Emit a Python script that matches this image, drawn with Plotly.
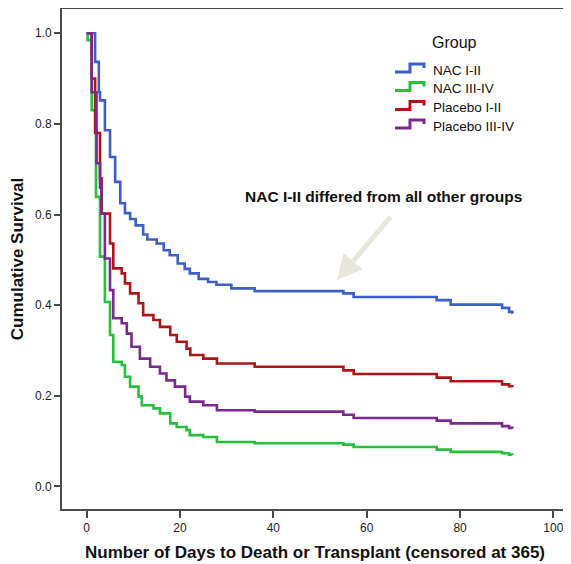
import plotly.graph_objects as go

# ---------------- data ----------------
groups = ["NAC I-II", "NAC III-IV", "Placebo I-II", "Placebo III-IV"]
colors = ["#3d5fc6", "#27c03c", "#b01418", "#7a2a8e"]

days_nac_12 = [0, 1.8, 2.6, 2.85, 3.9, 5.0, 6.1, 7.2, 8.2, 9.3, 10.5, 12.1, 13.0,
               15.0, 16.5, 17.8, 19.5, 21.0, 22.1, 24.0, 26.0, 27.8, 31.0, 36.0,
               55.0, 57.2, 75.0, 78.0, 89.0, 90.5, 91.2]
surv_nac_12 = [1.0, 0.937, 0.87, 0.852, 0.786, 0.727, 0.672, 0.625, 0.603, 0.59,
               0.576, 0.556, 0.545, 0.536, 0.521, 0.51, 0.492, 0.48, 0.47, 0.458,
               0.451, 0.445, 0.437, 0.431, 0.426, 0.418, 0.411, 0.401, 0.394,
               0.385, 0.381]

days_nac_34 = [0, 0.2, 1.07, 2.0, 2.85, 3.9, 5.0, 5.7, 7.5, 8.2, 9.3, 11.1, 11.8,
               14.3, 15.7, 17.9, 19.3, 21.4, 22.1, 25.0, 27.9, 36.0, 55.0, 57.2,
               75.0, 78.0, 89.0, 90.5, 91.2]
surv_nac_34 = [1.0, 0.985, 0.83, 0.639, 0.507, 0.407, 0.334, 0.275, 0.268, 0.242,
               0.22, 0.198, 0.179, 0.172, 0.161, 0.139, 0.131, 0.124, 0.113, 0.109,
               0.098, 0.095, 0.092, 0.087, 0.081, 0.076, 0.073, 0.070, 0.069]

days_pla_12 = [0, 1.07, 1.8, 2.85, 3.2, 5.0, 5.7, 7.5, 8.2, 9.3, 11.1, 12.1, 14.3,
               15.7, 17.9, 19.3, 21.4, 22.2, 25.0, 27.9, 36.0, 55.0, 57.2, 75.0,
               78.0, 89.0, 90.5, 91.2]
surv_pla_12 = [1.0, 0.90, 0.78, 0.68, 0.602, 0.536, 0.481, 0.47, 0.448, 0.426,
               0.404, 0.378, 0.367, 0.352, 0.334, 0.319, 0.304, 0.29, 0.282, 0.271,
               0.264, 0.256, 0.248, 0.24, 0.232, 0.225, 0.221, 0.219]

days_pla_34 = [0, 1.07, 2.1, 2.85, 3.2, 3.9, 5.0, 5.7, 7.5, 8.6, 9.6, 11.4, 13.6,
               15.7, 17.1, 18.9, 21.1, 22.1, 25.0, 27.9, 36.0, 55.0, 57.2, 75.0,
               78.0, 89.0, 90.5, 91.2]
surv_pla_34 = [1.0, 0.87, 0.713, 0.66, 0.602, 0.503, 0.433, 0.371, 0.36, 0.337,
               0.308, 0.282, 0.264, 0.249, 0.234, 0.22, 0.198, 0.187, 0.179, 0.168,
               0.165, 0.158, 0.151, 0.145, 0.139, 0.133, 0.129, 0.127]

x_ticks = [0, 20, 40, 60, 80, 100]
y_ticks = [0.0, 0.2, 0.4, 0.6, 0.8, 1.0]
y_tick_labels = ["0.0", "0.2", "0.4", "0.6", "0.8", "1.0"]

x_title = "Number of Days to Death or Transplant (censored at 365)"
y_title = "Cumulative Survival"
note_text = "NAC I-II differed from all other groups"
legend_title = "Group"

series = [(days_nac_12, surv_nac_12), (days_nac_34, surv_nac_34),
          (days_pla_12, surv_pla_12), (days_pla_34, surv_pla_34)]

# ---------------- figure ----------------
# the page body has an 8px margin, so the figure is sized to fit the window
OFF = 8
W, H = 571 - OFF, 564 - OFF
ML, MR, MT, MB = 62 - OFF, 3, 1, 55
FONT = "Arial, Liberation Sans, sans-serif"

fig = go.Figure()
for name, color, (t, s) in zip(groups, colors, series):
    fig.add_trace(go.Scatter(x=t, y=s, mode="lines", name=name,
                             line=dict(color=color, width=2.6, shape="hv"),
                             showlegend=False))

axis_common = dict(showline=True, linecolor="#4a4a4a", linewidth=2, mirror=True,
                   ticks="outside", tickcolor="#4a4a4a", tickwidth=2,
                   showgrid=False, zeroline=False,
                   tickfont=dict(family=FONT, size=12, color="#222"))

fig.update_xaxes(range=[-5.29, 103.13], tickvals=x_ticks, ticklen=7,
                 title=dict(text=x_title, standoff=12,
                            font=dict(family=FONT, size=17, color="#111", weight="bold")),
                 **axis_common)
fig.update_yaxes(range=[-0.050, 1.0536], tickvals=y_ticks, ticktext=y_tick_labels, ticklen=6,
                 title=dict(text=y_title, standoff=10,
                            font=dict(family=FONT, size=17, color="#111", weight="bold")),
                 **axis_common)

# reference-pixel -> paper helpers for decorations
PL, PR, PT, PB = 62, 568, 9, 509

def px(xp):
    return (xp - PL) / (PR - PL)

def py(yp):
    return (PB - yp) / (PB - PT)

annotations = []
shapes = []

# legend (custom, with step-shaped icons)
annotations.append(dict(text=legend_title, xref="paper", yref="paper",
                        x=px(454), y=py(43), showarrow=False,
                        xanchor="center", yanchor="middle",
                        font=dict(family=FONT, size=16, color="#111")))
row_y = [70, 88.5, 107.5, 126]
for name, color, ry in zip(groups, colors, row_y):
    annotations.append(dict(text=name, xref="paper", yref="paper",
                            x=px(431), y=py(ry), showarrow=False,
                            xanchor="left", yanchor="middle",
                            font=dict(family=FONT, size=13.5, color="#111")))
    path = (f"M {px(395)},{py(ry + 2)} L {px(410)},{py(ry + 2)} "
            f"L {px(410)},{py(ry - 6)} L {px(424)},{py(ry - 6)} L {px(424)},{py(ry - 2)}")
    shapes.append(dict(type="path", path=path, xref="paper", yref="paper",
                       line=dict(color=color, width=3)))

# note text and arrow
annotations.append(dict(text=note_text, x=63.7, y=0.640, xref="x", yref="y",
                        showarrow=False, xanchor="center", yanchor="middle",
                        font=dict(family=FONT, size=15.5, color="#111", weight="bold")))
annotations.append(dict(text="", x=53.6, y=0.455, xref="x", yref="y",
                        ax=65.4, ay=0.598, axref="x", ayref="y",
                        showarrow=True, arrowhead=2, arrowsize=1.0, arrowwidth=5,
                        arrowcolor="#e9e7dd"))

fig.update_layout(width=W, height=H,
                  margin=dict(l=ML, r=MR, t=MT, b=MB, autoexpand=False),
                  paper_bgcolor="white", plot_bgcolor="white",
                  annotations=annotations, shapes=shapes,
                  showlegend=False)

fig.write_html("out.html")
